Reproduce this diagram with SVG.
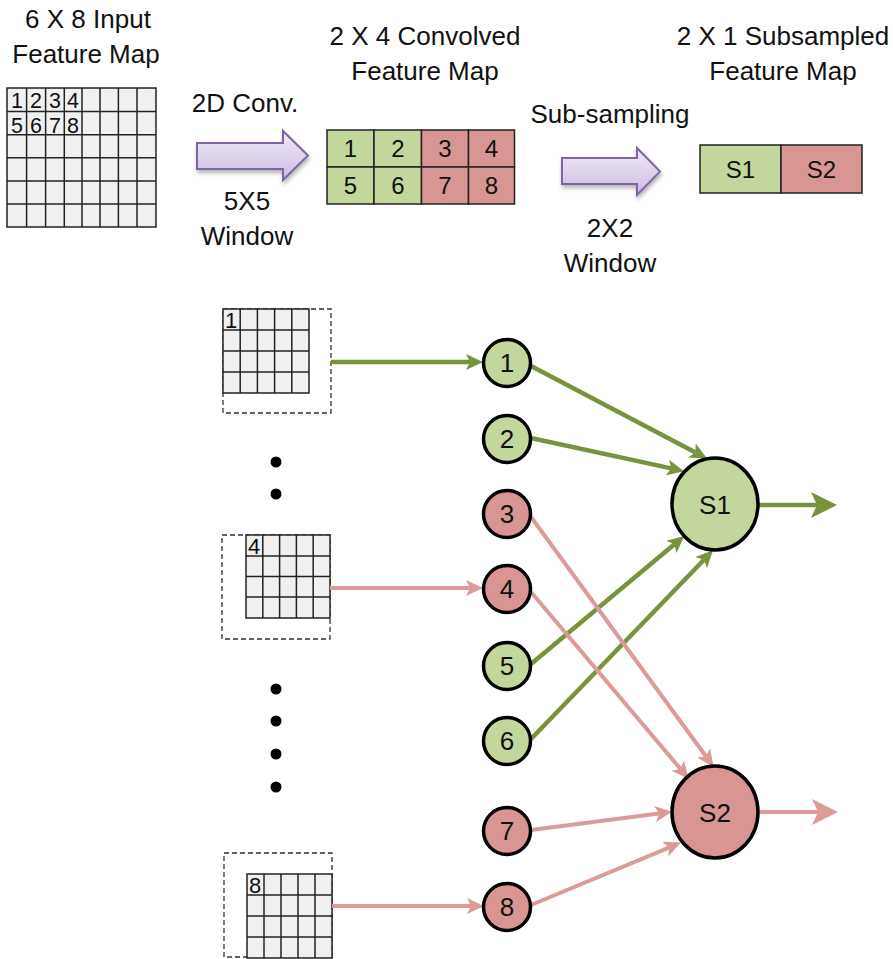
<svg xmlns="http://www.w3.org/2000/svg" width="893" height="959" viewBox="0 0 893 959">
<style>
text{font-family:"Liberation Sans","Noto Sans",Arial,sans-serif;fill:#111}
.lbl{font-size:26px;text-anchor:middle}
.cell{fill:#f0f0f0;stroke:#222;stroke-width:1.5}
.gl{stroke:#222;stroke-width:1.5;fill:none}
.dash{fill:none;stroke:#333;stroke-width:1.3;stroke-dasharray:5 3}
.g{fill:#c3d69b}
.r{fill:#d99594}
.box{stroke:#222;stroke-width:1.5}
.node{stroke:#000;stroke-width:3.5}
.num{font-size:24px;text-anchor:middle}
.nn{font-size:26px;text-anchor:middle}
.dg{font-size:21.5px;text-anchor:middle}
.wn{font-size:22px}
.eg{stroke:#77933c;stroke-width:4.5;fill:none}
.er{stroke:#dc9a99;stroke-width:4;fill:none}
.parr{fill:url(#pg);stroke:#8064a2;stroke-width:2}
.dot{fill:#000}
</style>
<defs>
<linearGradient id="pg" x1="0" y1="0" x2="0" y2="1">
<stop offset="0" stop-color="#f1ecf8"/>
<stop offset="1" stop-color="#cbbbe0"/>
</linearGradient>
<filter id="sh" x="-10%" y="-10%" width="130%" height="140%">
<feDropShadow dx="1" dy="3" stdDeviation="2" flood-color="#000" flood-opacity="0.3"/>
</filter>
<marker id="mg" viewBox="0 -8 17 16" refX="4" refY="0" markerWidth="17" markerHeight="16" markerUnits="userSpaceOnUse" orient="auto">
<path d="M17,0 L0,-8 L4,0 L0,8 Z" fill="#77933c"/>
</marker>
<marker id="mr" viewBox="0 -8 17 16" refX="4" refY="0" markerWidth="17" markerHeight="16" markerUnits="userSpaceOnUse" orient="auto">
<path d="M17,0 L0,-8 L4,0 L0,8 Z" fill="#dc9a99"/>
</marker>
<marker id="mgb" viewBox="0 -13 26 26" refX="6" refY="0" markerWidth="26" markerHeight="26" markerUnits="userSpaceOnUse" orient="auto">
<path d="M26,0 L0,-13 L6,0 L0,13 Z" fill="#77933c"/>
</marker>
<marker id="mrb" viewBox="0 -13 26 26" refX="6" refY="0" markerWidth="26" markerHeight="26" markerUnits="userSpaceOnUse" orient="auto">
<path d="M26,0 L0,-13 L6,0 L0,13 Z" fill="#dc9a99"/>
</marker>
</defs>
<rect width="893" height="959" fill="#fff"/>

<!-- Input feature map -->
<g id="input-map">
<rect x="7" y="88" width="149" height="139" class="cell"/>
<path class="gl" d="M26.6,88V227M45.6,88V227M64.3,88V227M82,88V227M100,88V227M118.4,88V227M137,88V227M7,111.5H156M7,134.7H156M7,157.8H156M7,181H156M7,204H156"/>
<text class="dg" x="17" y="108">1</text>
<text class="dg" x="36" y="108">2</text>
<text class="dg" x="55" y="108">3</text>
<text class="dg" x="73" y="108">4</text>
<text class="dg" x="17" y="132.5">5</text>
<text class="dg" x="36" y="132.5">6</text>
<text class="dg" x="55" y="132.5">7</text>
<text class="dg" x="73" y="132.5">8</text>
<text class="lbl" x="88" y="28">6 X 8 Input</text>
<text class="lbl" x="86" y="63">Feature Map</text>
</g>

<!-- 2D conv arrow -->
<g id="conv-arrow">
<path class="parr" filter="url(#sh)" d="M197,143H283V131L308,155.5L283,180V169H197Z"/>
<text class="lbl" x="245" y="112">2D Conv.</text>
<text class="lbl" x="247" y="210">5X5</text>
<text class="lbl" x="247" y="245">Window</text>
</g>

<!-- Convolved feature map -->
<g id="conv-map">
<rect x="327" y="130" width="47" height="37" class="g box"/>
<rect x="374" y="130" width="47.5" height="37" class="g box"/>
<rect x="421.5" y="130" width="47" height="37" class="r box"/>
<rect x="468.5" y="130" width="46" height="37" class="r box"/>
<rect x="327" y="167" width="47" height="37" class="g box"/>
<rect x="374" y="167" width="47.5" height="37" class="g box"/>
<rect x="421.5" y="167" width="47" height="37" class="r box"/>
<rect x="468.5" y="167" width="46" height="37" class="r box"/>
<text class="num" x="350.5" y="157">1</text>
<text class="num" x="398" y="157">2</text>
<text class="num" x="445" y="157">3</text>
<text class="num" x="491.5" y="157">4</text>
<text class="num" x="350.5" y="194">5</text>
<text class="num" x="398" y="194">6</text>
<text class="num" x="445" y="194">7</text>
<text class="num" x="491.5" y="194">8</text>
<text class="lbl" x="425" y="45">2 X 4 Convolved</text>
<text class="lbl" x="425" y="80">Feature Map</text>
</g>

<!-- Subsampling arrow -->
<g id="sub-arrow">
<path class="parr" filter="url(#sh)" d="M562,158H637V148L660,171.5L637,195V184H562Z"/>
<text class="lbl" x="610" y="123">Sub-sampling</text>
<text class="lbl" x="610" y="237">2X2</text>
<text class="lbl" x="610" y="272">Window</text>
</g>

<!-- Subsampled map -->
<g id="sub-map">
<rect x="700" y="145" width="81" height="48" class="g box"/>
<rect x="781" y="145" width="81" height="48" class="r box"/>
<text class="num" x="740.5" y="178">S1</text>
<text class="num" x="821.5" y="178">S2</text>
<text class="lbl" x="783" y="45">2 X 1 Subsampled</text>
<text class="lbl" x="783" y="80">Feature Map</text>
</g>

<!-- Windows -->
<g id="window-1">
<rect class="dash" x="223" y="309" width="108" height="104"/>
<rect x="223" y="309" width="86" height="84" class="cell"/>
<path class="gl" d="M240.2,309V393M257.4,309V393M274.6,309V393M291.8,309V393M223,330H309M223,351H309M223,372H309"/>
<text class="wn" x="225" y="328">1</text>
</g>
<g id="window-4">
<rect class="dash" x="222" y="535" width="108" height="104"/>
<rect x="246" y="535" width="84" height="83" class="cell"/>
<path class="gl" d="M262.8,535V618M279.6,535V618M296.4,535V618M313.2,535V618M246,556H330M246,576.5H330M246,597H330"/>
<text class="wn" x="248" y="554">4</text>
</g>
<g id="window-8">
<rect class="dash" x="224" y="853" width="108" height="104"/>
<rect x="247" y="874" width="85" height="84" class="cell"/>
<path class="gl" d="M264,874V958M281,874V958M298,874V958M315,874V958M247,895H332M247,916H332M247,937H332"/>
<text class="wn" x="249" y="893">8</text>
</g>

<!-- dots -->
<g id="dots">
<circle class="dot" cx="276" cy="462" r="5.5"/>
<circle class="dot" cx="276" cy="494" r="5.5"/>
<circle class="dot" cx="276" cy="689" r="5.5"/>
<circle class="dot" cx="276" cy="721" r="5.5"/>
<circle class="dot" cx="276" cy="754" r="5.5"/>
<circle class="dot" cx="276" cy="787" r="5.5"/>
</g>

<!-- connectors -->
<g id="connectors">
<path class="eg" marker-end="url(#mg)" d="M331,362H470"/>
<path class="er" marker-end="url(#mr)" d="M330,588H470"/>
<path class="er" marker-end="url(#mr)" d="M332,906H471"/>
<path class="eg" marker-end="url(#mg)" d="M531,366L695.5,452.4"/>
<path class="eg" marker-end="url(#mg)" d="M531,438L671.3,468.4"/>
<path class="eg" marker-end="url(#mg)" d="M531,664L674.4,544.3"/>
<path class="eg" marker-end="url(#mg)" d="M531,739L704,559.7"/>
<path class="er" marker-end="url(#mr)" d="M531,517L705.9,756.3"/>
<path class="er" marker-end="url(#mr)" d="M531,592L680.4,768.8"/>
<path class="er" marker-end="url(#mr)" d="M531,830L659.1,813.5"/>
<path class="er" marker-end="url(#mr)" d="M531,905L669,847.6"/>
<path class="eg" marker-end="url(#mgb)" d="M758,505H817"/>
<path class="er" marker-end="url(#mrb)" d="M758,812H818"/>
</g>

<!-- nodes -->
<g id="node-1"><circle class="node g" cx="507" cy="363" r="23.5"/><text class="nn" x="507" y="372">1</text></g>
<g id="node-2"><circle class="node g" cx="507" cy="439" r="23.5"/><text class="nn" x="507" y="448">2</text></g>
<g id="node-3"><circle class="node r" cx="507" cy="514" r="23.5"/><text class="nn" x="507" y="523">3</text></g>
<g id="node-4"><circle class="node r" cx="507" cy="589" r="23.5"/><text class="nn" x="507" y="598">4</text></g>
<g id="node-5"><circle class="node g" cx="507" cy="666" r="23.5"/><text class="nn" x="507" y="675">5</text></g>
<g id="node-6"><circle class="node g" cx="507" cy="741" r="23.5"/><text class="nn" x="507" y="750">6</text></g>
<g id="node-7"><circle class="node r" cx="507" cy="831" r="23.5"/><text class="nn" x="507" y="840">7</text></g>
<g id="node-8"><circle class="node r" cx="507" cy="907" r="23.5"/><text class="nn" x="507" y="916">8</text></g>
<g id="node-S1"><ellipse class="node g" cx="715" cy="504" rx="43" ry="46"/><text class="nn" x="715" y="514">S1</text></g>
<g id="node-S2"><ellipse class="node r" cx="715" cy="812" rx="43" ry="46"/><text class="nn" x="715" y="822">S2</text></g>
</svg>
